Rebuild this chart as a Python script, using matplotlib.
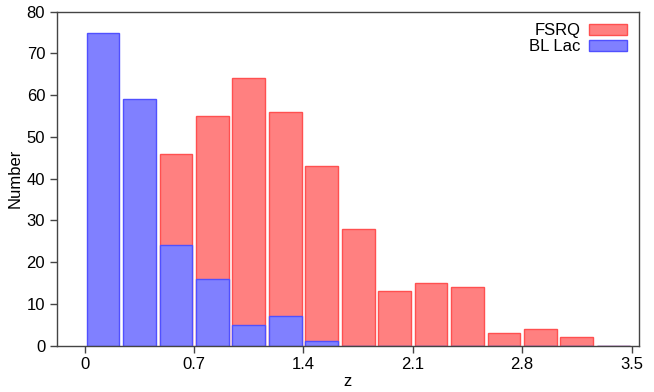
import matplotlib
matplotlib.use("Agg")
import matplotlib.pyplot as plt
import numpy as np

plt.rcParams['font.family'] = ['Liberation Sans', 'DejaVu Sans']

bin_edges = np.linspace(0, 3.5, 16)
fsrq_counts = [0, 0, 46, 55, 64, 56, 43, 28, 13, 15, 14, 3, 4, 2, 0]
bllac_counts = [75, 59, 24, 16, 5, 7, 1, 0, 0, 0, 0, 0, 0, 0, 0]
xticks = [0, 0.7, 1.4, 2.1, 2.8, 3.5]
xticklabels = ["0", "0.7", "1.4", "2.1", "2.8", "3.5"]
yticks = [0, 10, 20, 30, 40, 50, 60, 70, 80]

fig = plt.figure(figsize=(6.54, 3.92), dpi=100)
ax = fig.add_axes([57/654, 1-345.5/392, (639-57)/654, (345.5-11.7)/392])

centers = (bin_edges[:-1] + bin_edges[1:]) / 2
w = (bin_edges[1] - bin_edges[0]) * 0.9
ax.bar(centers, fsrq_counts, width=w, color='#ff8080', edgecolor='#ff5050',
       linewidth=1.0, label='FSRQ')
ax.bar(centers, bllac_counts, width=w, color='#8080ff', edgecolor='#5050ff',
       linewidth=1.0, label='BL Lac')

ax.set_xlim(-0.178, 3.548)
ax.set_ylim(0, 80)
ax.set_xticks(xticks)
ax.set_xticklabels(xticklabels)
ax.set_yticks(yticks)
for s in ax.spines.values():
    s.set_color('#444444')
    s.set_linewidth(1.0)
ax.tick_params(direction='out', length=5, width=1, color='#444444',
               labelsize=12, labelcolor='black')
ax.set_xlabel('z', fontsize=12, labelpad=1)
ax.set_ylabel('Number', fontsize=12, labelpad=3)

leg = ax.legend(loc='upper right', frameon=False, markerfirst=False,
                fontsize=12, handlelength=2.3, handleheight=0.7,
                borderaxespad=0.3, labelspacing=0.05, handletextpad=0.5)

fig.savefig('out.png', dpi=100)
